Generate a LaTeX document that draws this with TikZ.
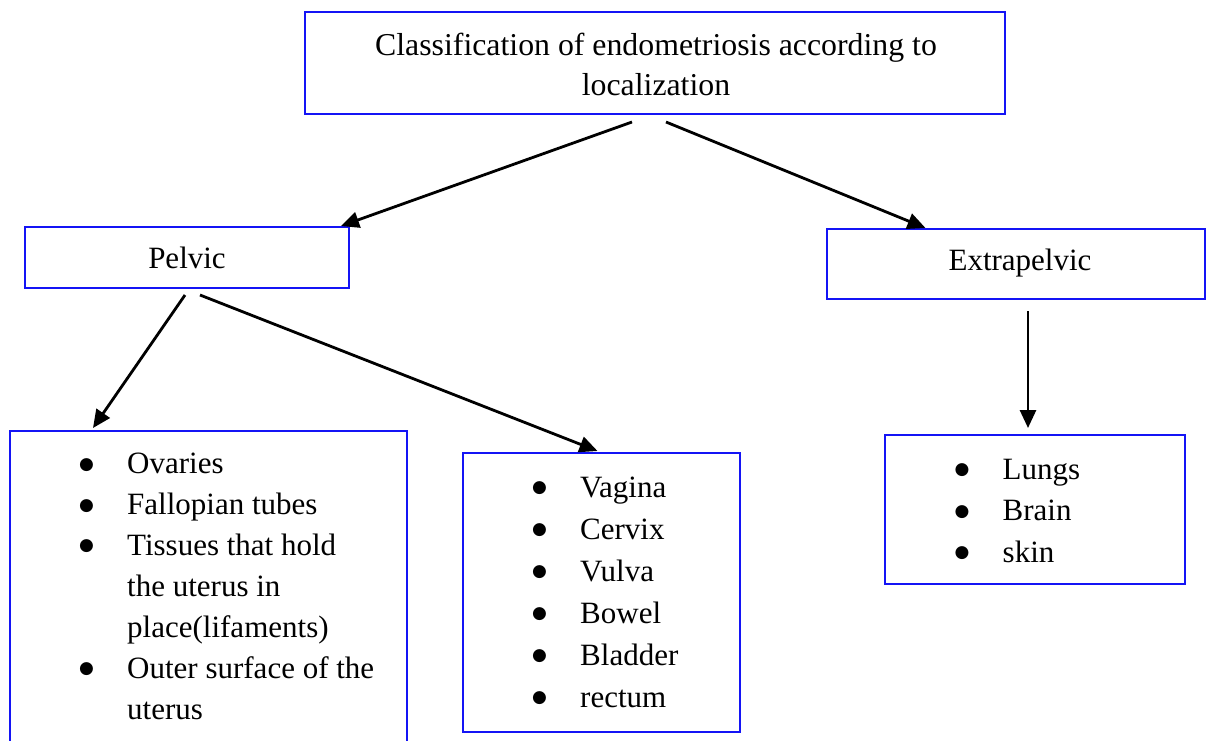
\documentclass[tikz,border=0pt]{standalone}
\usepackage{fontspec}
\setmainfont{Liberation Serif}
\newfontfamily\dejavu{DejaVu Sans}
\usetikzlibrary{arrows.meta,calc}
\definecolor{boxblue}{RGB}{20,20,245}
\tikzset{
  box/.style={draw=boxblue, line width=2pt, rectangle, inner sep=0pt},
  conn/.style={draw=black, line width=2.8pt, -{Triangle[length=18pt,width=16pt]}},
  lbl/.style={inner sep=0pt, font=\fontsize{31}{41}\selectfont},
  lst/.style={inner sep=0pt, align=left},
}
\newcommand{\bitem}[1]{\makebox[47pt][l]{\hspace{-1pt}\raisebox{4.5pt}{\dejavu\fontsize{17}{17}\selectfont ●}}#1}
\newcommand{\bcont}[1]{\hspace*{47pt}#1}
\begin{document}
\begin{tikzpicture}[x=1pt,y=-1pt]
\clip (0,0) rectangle (1206,740);
\fill[white] (0,0) rectangle (1206,740);

% boxes
\node[box, minimum width=700pt, minimum height=102pt] (top) at (655,63) {};
\node[box, minimum width=324pt, minimum height=61pt] (pelvic) at (187,257.5) {};
\node[box, minimum width=378pt, minimum height=70pt] (extra) at (1015.5,264) {};
\node[box, minimum width=397pt, minimum height=340pt] (leftbox) at (208.5,601) {};
\node[box, minimum width=277pt, minimum height=279pt] (midbox) at (601.5,592.5) {};
\node[box, minimum width=300pt, minimum height=149pt] (rightbox) at (1035,509.5) {};

% texts
\node[lbl, anchor=base, font=\fontsize{31.8}{40}\selectfont] (toptxt1) at (656,55) {Classification of endometriosis according to};
\node[lbl, anchor=base, font=\fontsize{31.8}{40}\selectfont] (toptxt2) at (656,95) {localization};
\node[lbl, anchor=base] (pelvictxt) at (187,268) {Pelvic};
\node[lbl, anchor=base] (extratxt) at (1020,270) {Extrapelvic};

% list texts (anchored at the baseline of their last line)
\node[lst, anchor=base west, font=\fontsize{31}{40.9}\selectfont] (leftlist) at (80,719) {%
\bitem{Ovaries}\\
\bitem{Fallopian tubes}\\
\bitem{Tissues that hold}\\
\bcont{the uterus in}\\
\bcont{place(lifaments)}\\
\bitem{Outer surface of the}\\
\bcont{uterus}};

\node[lst, anchor=base west, font=\fontsize{31}{42}\selectfont] (midlist) at (533,707) {%
\bitem{Vagina}\\
\bitem{Cervix}\\
\bitem{Vulva}\\
\bitem{Bowel}\\
\bitem{Bladder}\\
\bitem{rectum}};

\node[lst, anchor=base west, font=\fontsize{31}{41.5}\selectfont] (rightlist) at (955.5,562) {%
\bitem{Lungs}\\
\bitem{Brain}\\
\bitem{skin}};

% connector start points
\coordinate (s1) at ($(top.south)+(-23,7)$);
\coordinate (s2) at ($(top.south)+(11,7)$);
\coordinate (s3) at ($(pelvic.south)+(-2,6)$);
\coordinate (s4) at ($(pelvic.south)+(13,6)$);
\coordinate (s5) at ($(extra.south)+(12.5,11)$);

\draw[conn] (s1) -- ([xshift=-9pt]pelvic.north east);
\draw[conn] (s2) -- ([xshift=-90pt]extra.north);
\draw[conn] (s3) -- ([xshift=84pt,yshift=2pt]leftbox.north west);
\draw[conn] (s4) -- ([xshift=-4pt,yshift=1pt]midbox.north);
\draw[conn] (s5) -- ([xshift=-7pt,yshift=6pt]rightbox.north);
\end{tikzpicture}
\end{document}
